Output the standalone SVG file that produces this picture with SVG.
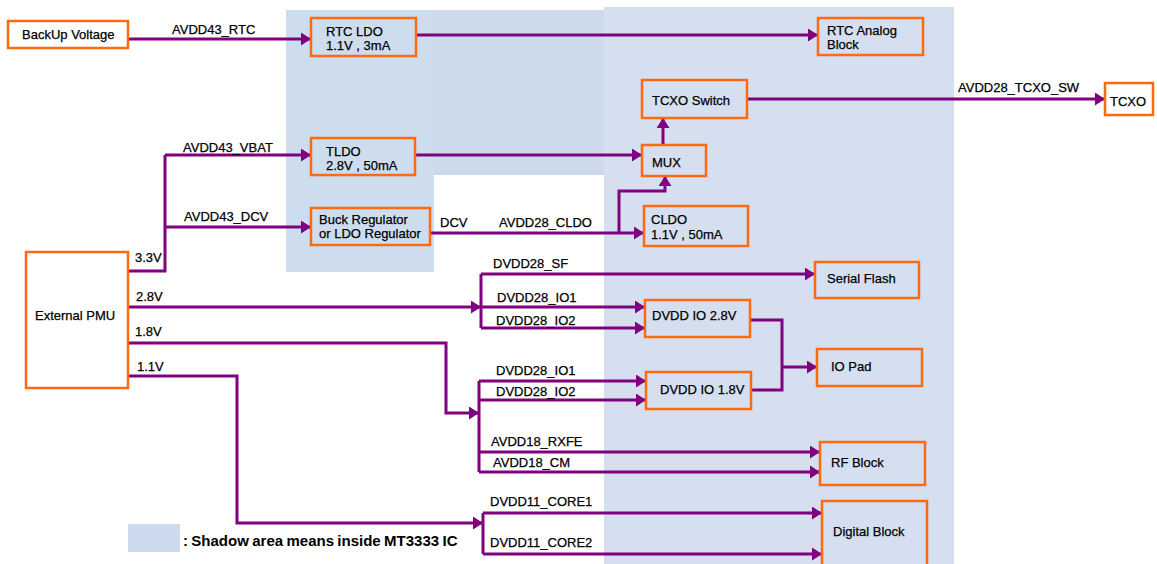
<svg xmlns="http://www.w3.org/2000/svg" width="1157" height="564" viewBox="0 0 1157 564">
<style>
text{font-family:"Liberation Sans",Arial,sans-serif;font-size:13px;fill:#000;stroke:#000;stroke-width:0.25}
.box{fill:none;stroke:#FF6A10;stroke-width:2.5}
.wbox{fill:#fff;stroke:#FF6A10;stroke-width:2.5}
.w{fill:none;stroke:#800080;stroke-width:3}
.a{marker-end:url(#arr)}
.legend{font-size:15px;font-weight:bold;stroke:none;word-spacing:-0.8px}
</style>
<defs>
<marker id="arr" markerUnits="userSpaceOnUse" markerWidth="11" markerHeight="13" refX="10" refY="6.5" orient="auto">
<path d="M0,0 L10,6.5 L0,13 z" fill="#800080"/>
</marker>
</defs>
<rect width="1157" height="564" fill="#fff"/>
<g id="shade">
<rect x="286" y="10" width="148" height="262" fill="#CEDDEE"/>
<rect x="434" y="10" width="170" height="165" fill="#CCDAEC"/>
<rect x="604" y="7" width="350" height="557" fill="#D5DFF0"/>
</g>
<g id="connectors">
<path class="w a" d="M128,39 H311"/>
<path class="w a" d="M416,35 H818"/>
<path class="w a" d="M415,155 H642"/>
<path class="w a" d="M663,145 V118"/>
<path class="w a" d="M747,99 H1105"/>
<path class="w a" d="M430,233 H644"/>
<path class="w a" d="M619,233 V191 H665 V176"/>
<path class="w" d="M128,271 H165 V155"/>
<path class="w a" d="M165,155 H311"/>
<path class="w a" d="M165,227 H311"/>
<path class="w a" d="M128,307 H481"/>
<path class="w" d="M481,274 V328"/>
<path class="w a" d="M481,274 H815"/>
<path class="w a" d="M481,307 H645"/>
<path class="w a" d="M481,328 H645"/>
<path class="w a" d="M128,343 H446 V413 H479"/>
<path class="w" d="M479,381 V472"/>
<path class="w a" d="M479,381 H646"/>
<path class="w a" d="M479,400 H646"/>
<path class="w a" d="M479,452 H820"/>
<path class="w a" d="M479,472 H820"/>
<path class="w a" d="M128,376 H237 V523 H483"/>
<path class="w" d="M483,513 V554"/>
<path class="w a" d="M483,513 H822"/>
<path class="w a" d="M483,554 H822"/>
<path class="w" d="M750,320 H782 V390 H751"/>
<path class="w a" d="M782,367 H817"/>
<text x="172" y="34">AVDD43_RTC</text>
<text x="183" y="152">AVDD43_VBAT</text>
<text x="184" y="221">AVDD43_DCV</text>
<text x="135" y="262">3.3V</text>
<text x="440" y="227">DCV</text>
<text x="499" y="227">AVDD28_CLDO</text>
<text x="958" y="92">AVDD28_TCXO_SW</text>
<text x="136" y="301">2.8V</text>
<text x="135" y="336">1.8V</text>
<text x="137" y="371">1.1V</text>
<text x="493" y="268">DVDD28_SF</text>
<text x="497" y="302">DVDD28_IO1</text>
<text x="496" y="325">DVDD28_IO2</text>
<text x="496" y="375">DVDD28_IO1</text>
<text x="496" y="396">DVDD28_IO2</text>
<text x="491" y="446">AVDD18_RXFE</text>
<text x="493" y="467">AVDD18_CM</text>
<text x="490" y="506">DVDD11_CORE1</text>
<text x="490" y="547">DVDD11_CORE2</text>
</g>
<g id="backup"><rect class="wbox" x="8" y="21" width="120" height="27"/><text x="22" y="39">BackUp Voltage</text></g>
<g id="rtcldo"><rect class="box" x="311" y="18" width="105" height="38"/><text x="326" y="36">RTC LDO</text><text x="326" y="50">1.1V , 3mA</text></g>
<g id="tldo"><rect class="box" x="311" y="138" width="104" height="37"/><text x="326" y="156">TLDO</text><text x="326" y="170">2.8V , 50mA</text></g>
<g id="buck"><rect class="box" x="311" y="208" width="119" height="37"/><text x="319" y="224">Buck Regulator</text><text x="319" y="238">or LDO Regulator</text></g>
<g id="rtcanalog"><rect class="box" x="818" y="18" width="105" height="37"/><text x="827" y="35">RTC Analog</text><text x="827" y="49">Block</text></g>
<g id="tcxoswitch"><rect class="box" x="642" y="80" width="105" height="38"/><text x="652" y="105">TCXO Switch</text></g>
<g id="mux"><rect class="box" x="642" y="145" width="64" height="31"/><text x="652" y="167">MUX</text></g>
<g id="cldo"><rect class="box" x="644" y="206" width="104" height="40"/><text x="651" y="224">CLDO</text><text x="651" y="239">1.1V , 50mA</text></g>
<g id="tcxo"><rect class="wbox" x="1105" y="83" width="48" height="32"/><text x="1110" y="106">TCXO</text></g>
<g id="pmu"><rect class="wbox" x="26" y="252" width="102" height="136"/><text x="35" y="320">External PMU</text></g>
<g id="serialflash"><rect class="box" x="815" y="262" width="104" height="36"/><text x="827" y="283">Serial Flash</text></g>
<g id="dvddio28"><rect class="box" x="645" y="300" width="105" height="37"/><text x="652" y="320">DVDD IO 2.8V</text></g>
<g id="dvddio18"><rect class="box" x="646" y="372" width="105" height="37"/><text x="660" y="394">DVDD IO 1.8V</text></g>
<g id="iopad"><rect class="box" x="817" y="349" width="105" height="37"/><text x="831" y="371">IO Pad</text></g>
<g id="rfblock"><rect class="box" x="820" y="442" width="105" height="43"/><text x="831" y="467">RF Block</text></g>
<g id="digital"><rect class="box" x="822" y="501" width="105" height="66"/><text x="833" y="536">Digital Block</text></g>
<g id="legend"><rect x="128" y="524" width="52" height="28" fill="#CCDAEE"/><text class="legend" x="183" y="546">: Shadow area means inside MT3333 IC</text></g>
</svg>
